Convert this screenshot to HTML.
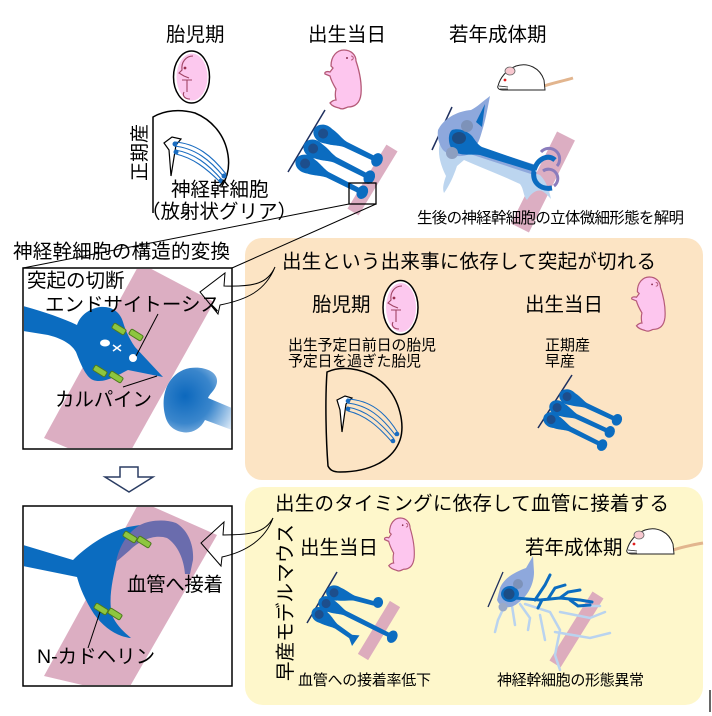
<!DOCTYPE html>
<html>
<head>
<meta charset="utf-8">
<style>
html,body{margin:0;padding:0;background:#fff;}
svg{display:block;}
</style>
</head>
<body>
<svg width="712" height="716" viewBox="0 0 712 716" xmlns="http://www.w3.org/2000/svg" font-family="'Liberation Sans','Noto Sans CJK JP',sans-serif">
<defs>
  <clipPath id="c1"><rect x="24" y="269" width="207" height="179"/></clipPath>
  <clipPath id="c2"><rect x="24" y="507" width="207" height="178"/></clipPath>
  <radialGradient id="gb" cx="185" cy="396" r="55" gradientUnits="userSpaceOnUse">
    <stop offset="0" stop-color="#0c68bd"/>
    <stop offset="0.5" stop-color="#3a86cc"/>
    <stop offset="1" stop-color="#d6e6f6"/>
  </radialGradient>
</defs>

<!-- panels -->
<rect x="245" y="238" width="458" height="242" rx="17" fill="#fce4c4"/>
<rect x="245" y="487" width="458" height="218" rx="18" fill="#fef7cb"/>

<!-- ============ TOP ROW ============ -->
<text x="166" y="41" font-size="19.5">胎児期</text>
<text x="308" y="41" font-size="19.5">出生当日</text>
<text x="449" y="41" font-size="19.5">若年成体期</text>

<!-- embryo egg top -->
<ellipse cx="191.5" cy="77" rx="18" ry="26" fill="#fff" stroke="#000" stroke-width="1.5"/>
<ellipse cx="192" cy="77" rx="15.5" ry="23.5" fill="#fcc8ee"/>
<path d="M193,56 C186,56 181,62 182,70 L179,73 L184,76 L189,78 M182,80 L192,80 M187,80 L187,92 M184,92 C182,96 185,99 190,99" fill="none" stroke="#a04464" stroke-width="1.1"/>
<circle cx="185" cy="68" r="1.4" fill="#9a3050"/>

<!-- brain section top -->
<path d="M153,213 L153,117 C165,110 180,109 195,113 C212,120 225,135 228,155 C230,168 227,178 222,186" fill="none" stroke="#000" stroke-width="1.5"/>
<path d="M164,143 L172,137 L181,139 L176,145 L171,176 L169,150 Z" fill="#fff" stroke="#000" stroke-width="1.2"/>
<g fill="none" stroke="#1a6cc0" stroke-width="1.1">
  <path d="M174,142 C196,143 212,156 226,174"/>
  <path d="M174,146 C195,148 210,160 224,177"/>
  <path d="M175,150 C194,153 208,164 222,180"/>
  <path d="M176,154 C193,158 206,168 220,182"/>
</g>
<g fill="#1a6cc0"><circle cx="175" cy="144" r="2.5"/><circle cx="176" cy="152" r="2.5"/><circle cx="224" cy="176" r="2.5"/><circle cx="221" cy="181" r="2.5"/></g>

<text transform="translate(146,181) rotate(-90)" font-size="19">正期産</text>
<text x="171" y="196" font-size="19.5">神経幹細胞</text>
<text x="141" y="218" font-size="19.5" textLength="156">（放射状グリア）</text>

<!-- pup top -->
<g transform="translate(323,50)">
  <path d="M8,16 C8,6 14,0 21,0 C28,0 33,5 33,11 C36,20 39,32 38,44 C37,53 32,57 25,57 C22,58 20,60 16,58 C12,57 9,56 7,53 C9,51 11,50 13,50 C12,46 12,43 13,39 C10,34 8,30 7,26 L2,24 C1,22 4,21 7,22 L10,18 Z" fill="#fdc6ee" stroke="#b55a78" stroke-width="1.3"/>
  <circle cx="24" cy="8" r="1" fill="#8a3050"/>
  <path d="M28,6 C31,6 31,10 28,10" fill="none" stroke="#b55a78" stroke-width="1"/>
</g>

<!-- top-middle cells -->
<line x1="392" y1="148" x2="353" y2="212" stroke="#dcaec2" stroke-width="13"/>
<line x1="325" y1="110" x2="288" y2="172" stroke="#1e2f5e" stroke-width="1.5"/>
<g fill="#0b6cc0">
  <g transform="translate(324,134) rotate(26)">
    <path d="M0,-8.5 C12,-8 16,-4 24,-3 L59,-2.5 L59,2.5 L24,3 C16,4 12,8 0,8.5 Z"/>
    <ellipse cx="0" cy="0" rx="11" ry="9"/><ellipse cx="59" cy="0" rx="5.5" ry="7"/>
    <circle cx="-1" cy="0" r="5" fill="#1d4e8c"/>
  </g>
  <g transform="translate(314,149) rotate(27)">
    <path d="M0,-8.5 C12,-8 16,-4 24,-3 L62,-2.5 L62,2.5 L24,3 C16,4 12,8 0,8.5 Z"/>
    <ellipse cx="0" cy="0" rx="11" ry="9"/><ellipse cx="62" cy="0" rx="5.5" ry="7"/>
    <circle cx="-1" cy="0" r="5" fill="#1d4e8c"/>
  </g>
  <g transform="translate(306,164) rotate(26.6)">
    <path d="M0,-8.5 C12,-8 16,-4 24,-3 L63,-2.5 L63,2.5 L24,3 C16,4 12,8 0,8.5 Z"/>
    <ellipse cx="0" cy="0" rx="11" ry="9"/><ellipse cx="63" cy="0" rx="5.5" ry="7"/>
    <circle cx="-1" cy="0" r="5" fill="#1d4e8c"/>
  </g>
</g>
<rect x="349" y="183" width="27" height="21" fill="none" stroke="#000" stroke-width="1.3"/>

<!-- adult mouse top -->
<g transform="translate(498,86)">
  <path d="M46,0 C55,-3 65,-5 75,-8" fill="none" stroke="#e2b58e" stroke-width="3"/>
  <path d="M0,0 C2,-8 8,-16 18,-20 C30,-24 42,-18 46,-6 L47,4 L5,4 C1,4 -1,2 0,0 Z" fill="#fff" stroke="#222" stroke-width="1"/>
  <ellipse cx="12" cy="-15" rx="5" ry="4" fill="#f8c8d0" stroke="#666" stroke-width="0.8"/>
  <circle cx="7" cy="-6" r="1.4" fill="#e02020"/>
  <path d="M1,0 L10,1 M2,3 L10,3" stroke="#222" stroke-width="0.8"/>
</g>

<!-- top-right complex cell -->
<line x1="566" y1="136" x2="520" y2="228" stroke="#dcaec2" stroke-width="20"/>
<line x1="452" y1="107" x2="432" y2="150" stroke="#1e2f5e" stroke-width="1.5"/>
<path d="M441,140 C436,152 441,166 446,176 C444,182 442,188 444,193 C449,186 453,178 457,166 L464,160 C482,168 503,176 520,184 C524,189 523,196 527,200 C531,193 537,189 542,191 C546,193 549,197 551,199 C549,189 546,181 540,175 L470,150 Z" fill="#bcd5ef"/>
<path d="M438,130 C444,118 458,111 471,110 C477,107 482,102 490,96 C488,106 486,118 483,128 C481,134 480,140 476,146 L536,165 L534,175 L470,154 C460,158 449,156 443,150 C439,145 437,137 438,130 Z" fill="#8ea8dc"/>
<path d="M452,130 C458,128 466,130 472,136 C475,140 478,145 482,147 L537,166 L535,172 L480,155 C470,154 462,156 455,152 C448,148 447,134 452,130 Z" fill="#0b6cc0"/>
<path d="M476,122 L485,104 L482,127 Z" fill="#0b6cc0"/>
<path d="M534,170 C538,158 548,154 555,160" stroke="#0b6cc0" stroke-width="5" fill="none"/>
<path d="M534,171 C532,182 540,190 552,188" stroke="#0b6cc0" stroke-width="5" fill="none"/>
<path d="M541,152 A10,10 0 0 1 557,166" stroke="#8a7cbc" stroke-width="3" fill="none"/>
<path d="M543,171 A9,9 0 0 1 554,186" stroke="#8a7cbc" stroke-width="3" fill="none"/>
<ellipse cx="459" cy="138" rx="7" ry="6" fill="#1c4d85"/>
<circle cx="467" cy="126" r="6" fill="#7d92b9"/>
<circle cx="452" cy="153" r="6" fill="#8d9fc0"/>

<text x="417" y="223" font-size="15.5" textLength="267">生後の神経幹細胞の立体微細形態を解明</text>

<!-- connector lines -->
<line x1="349" y1="204" x2="23" y2="268" stroke="#000" stroke-width="1"/>
<line x1="376" y1="204" x2="232" y2="268" stroke="#000" stroke-width="1"/>

<text x="13" y="258" font-size="19.5" textLength="217">神経幹細胞の構造的変換</text>

<!-- ============ LEFT BOX 1 ============ -->
<rect x="23" y="268" width="209" height="181" fill="#fff"/>
<g clip-path="url(#c1)">
  <polygon points="140,263 214,302 120,470 44,438" fill="#dcaec2"/>
  <path d="M165,415 C160,395 168,372 190,368 C205,366 218,372 217,382 C216,390 210,393 208,398 L232,408 L232,430 L205,420 C200,430 190,434 182,432 C172,430 167,424 165,415 Z" fill="url(#gb)"/>
  <path d="M23,306 C45,312 62,318 77,325 C80,316 88,309 100,307 C112,306 120,312 123,322 C126,332 130,340 135,347 L163,377 L128,370 C118,375 104,384 93,380 C86,377 81,365 76,352 C71,343 60,338 48,335 L23,331 Z" fill="#0b6cc0"/>
  <ellipse cx="105" cy="343" rx="5" ry="3.5" fill="#fff"/>
  <path d="M113,345 L121,351 M113,351 L121,345" stroke="#fff" stroke-width="1.5"/>
  <circle cx="133" cy="358" r="4" fill="#fff"/>
  <g fill="#8dc63f" stroke="#4d7a1e" stroke-width="1">
    <rect x="-7" y="-3" width="14" height="6" rx="1.5" transform="translate(119,329) rotate(32)"/>
    <rect x="-7" y="-3" width="14" height="6" rx="1.5" transform="translate(136,335) rotate(32)"/>
    <rect x="-7" y="-3" width="14" height="6" rx="1.5" transform="translate(100,371) rotate(32)"/>
    <rect x="-7" y="-3" width="14" height="6" rx="1.5" transform="translate(116,377) rotate(32)"/>
  </g>
  <line x1="158" y1="314" x2="136" y2="356" stroke="#000" stroke-width="1"/>
  <line x1="123" y1="387" x2="157" y2="376" stroke="#000" stroke-width="1"/>
</g>
<rect x="23" y="268" width="209" height="181" fill="none" stroke="#000" stroke-width="1.5"/>
<text x="27" y="287" font-size="19.5">突起の切断</text>
<text x="45" y="311" font-size="19.5" textLength="175">エンドサイトーシス</text>
<text x="55" y="406" font-size="19.5" textLength="97">カルパイン</text>

<!-- down arrow -->
<polygon points="120,467 138,467 138,477 153,477 129,492 105,477 120,477" fill="#fff" stroke="#2b3d63" stroke-width="1.5"/>

<!-- ============ LEFT BOX 2 ============ -->
<rect x="23" y="506" width="209" height="180" fill="#fff"/>
<g clip-path="url(#c2)">
  <polygon points="140,501 217,535 125,695 44,676" fill="#dcaec2"/>
  <path d="M23,545 L73,560 C85,548 105,533 128,527 L140,525 C128,535 120,545 117,560 C113,578 108,598 112,615 C116,625 124,632 131,638 C118,637 104,628 94,614 C85,600 80,588 77,577 L23,566 Z" fill="#0b6cc0"/>
  <path d="M116,562 C119,546 128,532 140,525 C150,520 165,519 176,523 C188,530 194,545 193,560 L190,574 L185,574 C184,560 178,545 167,538 C155,534 140,540 130,550 Z" fill="#6a6cad"/>
  <g fill="#8dc63f" stroke="#4d7a1e" stroke-width="1">
    <rect x="-7" y="-3" width="14" height="6" rx="1.5" transform="translate(130,537) rotate(32)"/>
    <rect x="-7" y="-3" width="14" height="6" rx="1.5" transform="translate(144,542) rotate(32)"/>
    <rect x="-7" y="-3" width="14" height="6" rx="1.5" transform="translate(101,609) rotate(32)"/>
    <rect x="-7" y="-3" width="14" height="6" rx="1.5" transform="translate(115,614) rotate(32)"/>
  </g>
  <line x1="100" y1="612" x2="88" y2="648" stroke="#000" stroke-width="1"/>
</g>
<rect x="23" y="506" width="209" height="180" fill="none" stroke="#000" stroke-width="1.5"/>
<text x="127" y="591" font-size="19.5" textLength="96">血管へ接着</text>
<text x="37" y="663" font-size="19.5">N-カドヘリン</text>

<!-- ============ ORANGE PANEL ============ -->
<text x="282" y="268" font-size="19.5" textLength="374">出生という出来事に依存して突起が切れる</text>
<text x="312" y="311" font-size="19.5">胎児期</text>
<text x="525" y="311" font-size="19.5">出生当日</text>

<ellipse cx="400.5" cy="307.5" rx="17.5" ry="27" fill="#fff" stroke="#000" stroke-width="1.5"/>
<ellipse cx="401" cy="307.5" rx="15" ry="24.5" fill="#fcc8ee"/>
<path d="M402,286 C394,286 390,293 391,300 L388,303 L393,306 L398,308 M391,310 L401,310 M396,310 L396,322 M393,322 C391,326 394,329 399,329" fill="none" stroke="#a04464" stroke-width="1.1"/>
<circle cx="394" cy="298" r="1.4" fill="#9a3050"/>

<g transform="translate(630,277) scale(0.92)">
  <path d="M8,16 C8,6 14,0 21,0 C28,0 33,5 33,11 C36,20 39,32 38,44 C37,53 32,57 25,57 C22,58 20,60 16,58 C12,57 9,56 7,53 C9,51 11,50 13,50 C12,46 12,43 13,39 C10,34 8,30 7,26 L2,24 C1,22 4,21 7,22 L10,18 Z" fill="#fdc6ee" stroke="#b55a78" stroke-width="1.3"/>
  <circle cx="24" cy="8" r="1" fill="#8a3050"/>
  <path d="M28,6 C31,6 31,10 28,10" fill="none" stroke="#b55a78" stroke-width="1"/>
</g>

<text x="288" y="350" font-size="15" textLength="148">出生予定日前日の胎児</text>
<text x="288" y="366" font-size="15" textLength="133">予定日を過ぎた胎児</text>
<text x="545" y="350" font-size="15">正期産</text>
<text x="545" y="366" font-size="15">早産</text>

<path d="M327,372 C345,364 370,370 385,385 C400,400 405,425 400,440 C393,460 370,472 340,472 C333,472 330,470 328,466 C326,440 325,400 327,372 Z" fill="none" stroke="#000" stroke-width="1.5"/>
<path d="M337,400 L345,396 L352,398 L346,404 L342,432 L340,410 Z" fill="#fff" stroke="#000" stroke-width="1.2"/>
<g fill="none" stroke="#1a6cc0" stroke-width="1">
  <path d="M347,399 C370,400 385,412 398,433"/>
  <path d="M347,403 C368,405 382,417 396,436"/>
  <path d="M347,407 C366,410 380,422 394,439"/>
  <path d="M348,411 C365,415 378,426 392,442"/>
</g>
<g fill="#1a6cc0"><circle cx="348" cy="401" r="2.3"/><circle cx="348" cy="409" r="2.3"/><circle cx="397" cy="434" r="2.3"/><circle cx="393" cy="441" r="2.3"/></g>

<line x1="572" y1="375" x2="538" y2="428" stroke="#1e2f5e" stroke-width="1.5"/>
<g fill="#0b6cc0">
  <g transform="translate(568,397) rotate(25)">
    <path d="M0,-7 C10,-6.5 14,-3.5 20,-2.5 L54,-2.2 L54,2.2 L20,2.5 C14,3.5 10,6.5 0,7 Z"/>
    <ellipse cx="0" cy="0" rx="9" ry="7.5"/><ellipse cx="54" cy="0" rx="5" ry="6"/>
    <circle cx="-1" cy="0" r="4.5" fill="#1d4e8c"/>
  </g>
  <g transform="translate(558,408) rotate(24.8)">
    <path d="M0,-7 C10,-6.5 14,-3.5 20,-2.5 L57,-2.2 L57,2.2 L20,2.5 C14,3.5 10,6.5 0,7 Z"/>
    <ellipse cx="0" cy="0" rx="9" ry="7.5"/><ellipse cx="57" cy="0" rx="5" ry="6"/>
    <circle cx="-1" cy="0" r="4.5" fill="#1d4e8c"/>
  </g>
  <g transform="translate(552,420) rotate(26.6)">
    <path d="M0,-7 C10,-6.5 14,-3.5 20,-2.5 L56,-2.2 L56,2.2 L20,2.5 C14,3.5 10,6.5 0,7 Z"/>
    <ellipse cx="0" cy="0" rx="9" ry="7.5"/><ellipse cx="56" cy="0" rx="5" ry="6"/>
    <circle cx="-1" cy="0" r="4.5" fill="#1d4e8c"/>
  </g>
</g>

<!-- ============ YELLOW PANEL ============ -->
<text x="275" y="510" font-size="19.5" textLength="394">出生のタイミングに依存して血管に接着する</text>
<text transform="translate(292,681) rotate(-90)" font-size="19.5" textLength="157">早産モデルマウス</text>
<text x="300" y="554" font-size="19.5">出生当日</text>
<text x="525" y="554" font-size="19.5">若年成体期</text>

<g transform="translate(383,518) scale(0.82,0.9)">
  <path d="M8,16 C8,6 14,0 21,0 C28,0 33,5 33,11 C36,20 39,32 38,44 C37,53 32,57 25,57 C22,58 20,60 16,58 C12,57 9,56 7,53 C9,51 11,50 13,50 C12,46 12,43 13,39 C10,34 8,30 7,26 L2,24 C1,22 4,21 7,22 L10,18 Z" fill="#fdc6ee" stroke="#b55a78" stroke-width="1.4"/>
  <circle cx="24" cy="8" r="1" fill="#8a3050"/>
  <path d="M28,6 C31,6 31,10 28,10" fill="none" stroke="#b55a78" stroke-width="1"/>
</g>

<g transform="translate(627,550)">
  <path d="M46,0 C55,-3 65,-5 76,-7" fill="none" stroke="#e2b58e" stroke-width="3"/>
  <path d="M0,0 C2,-8 8,-16 18,-20 C30,-24 42,-18 46,-6 L47,4 L5,4 C1,4 -1,2 0,0 Z" fill="#fff" stroke="#222" stroke-width="1"/>
  <ellipse cx="12" cy="-15" rx="5" ry="4" fill="#f8c8d0" stroke="#666" stroke-width="0.8"/>
  <circle cx="7" cy="-6" r="1.4" fill="#e02020"/>
  <path d="M1,0 L10,1 M2,3 L10,3" stroke="#222" stroke-width="0.8"/>
</g>

<!-- yellow left cells -->
<line x1="395" y1="604" x2="363" y2="657" stroke="#ddacbd" stroke-width="12"/>
<line x1="337" y1="572" x2="307" y2="623" stroke="#1e2f5e" stroke-width="1.5"/>
<g fill="#0b6cc0">
  <g transform="translate(335,593) rotate(15)">
    <path d="M0,-7 C10,-6.5 14,-3.5 20,-2.5 L44,-2.2 L44,2.2 L20,2.5 C14,3.5 10,6.5 0,7 Z"/>
    <ellipse cx="0" cy="0" rx="9" ry="7.5"/><ellipse cx="44" cy="-2" rx="5" ry="5.5"/>
    <circle cx="-1" cy="0" r="4.5" fill="#1d4e8c"/>
  </g>
  <g transform="translate(327,604) rotate(26.6)">
    <path d="M0,-7 C10,-6.5 14,-3.5 20,-2.5 L73,-2.2 L73,2.2 L20,2.5 C14,3.5 10,6.5 0,7 Z"/>
    <ellipse cx="0" cy="0" rx="9" ry="7.5"/><ellipse cx="73" cy="0" rx="5" ry="6.5"/>
    <circle cx="-1" cy="0" r="4.5" fill="#1d4e8c"/>
  </g>
  <g transform="translate(320,615) rotate(35)">
    <path d="M0,-7 C10,-6.5 14,-3.5 20,-2.5 L40,-2.2 L40,2.2 L20,2.5 C14,3.5 10,6.5 0,7 Z"/>
    <ellipse cx="0" cy="0" rx="9" ry="7.5"/><path d="M34,0 L44,-6 L44,7 Z"/>
    <circle cx="-1" cy="0" r="4.5" fill="#1d4e8c"/>
  </g>
</g>

<!-- yellow right cell -->
<line x1="598" y1="595" x2="555" y2="664" stroke="#ddacbd" stroke-width="13"/>
<g fill="none" stroke="#b9d3ef" stroke-width="2.5" stroke-linecap="round">
  <path d="M505,605 L498,620 L495,632"/>
  <path d="M512,606 L515,625"/>
  <path d="M520,604 L530,618 L528,630"/>
  <path d="M525,604 L550,612 L560,630 L555,655 L560,670"/>
  <path d="M560,612 L590,618 L605,612"/>
  <path d="M555,632 L590,638 L610,633"/>
  <path d="M580,606 L600,606"/>
  <path d="M540,615 L545,640"/>
</g>
<line x1="503" y1="572" x2="488" y2="607" stroke="#1e2f5e" stroke-width="1.3"/>
<path d="M500,588 C504,578 515,572 526,568 L533,556 L534,572 C534,584 528,596 518,603 C510,610 500,608 497,600 Z" fill="#8ea8dc"/>
<g fill="none" stroke="#0b6cc0" stroke-width="3" stroke-linecap="round">
  <path d="M515,598 L540,600 L560,598 L580,600 L592,602"/>
  <path d="M535,600 L545,585 L550,575"/>
  <path d="M548,599 L555,588 L565,585"/>
  <path d="M560,598 L568,592 L580,590"/>
  <path d="M570,600 L578,606 L590,605"/>
  <path d="M542,600 L538,608"/>
</g>
<ellipse cx="510" cy="594" rx="9" ry="8" fill="#0b6cc0"/>
<circle cx="509" cy="594" r="5.5" fill="#1c4d85"/>
<circle cx="518" cy="584" r="5" fill="#7d92b9"/>
<circle cx="503" cy="607" r="4.5" fill="#9aaac8"/>

<text x="298" y="685" font-size="15" textLength="133">血管への接着率低下</text>
<text x="497" y="685" font-size="15" textLength="147">神経幹細胞の形態異常</text>

<!-- callout arrows (outline only) -->
<path d="M275,267 C268,283 255,287 224,286 L225,273 L200,292 L218,314 L220,305 C245,300 265,292 275,267" fill="none" stroke="#000" stroke-width="1"/>
<path d="M273,518 C265,533 250,535 223,535 L224,522 L201,543 L221,566 L222,557 C245,552 265,540 273,518" fill="none" stroke="#000" stroke-width="1"/>

<!-- small mark bottom right -->
<line x1="710" y1="690" x2="710" y2="712" stroke="#000" stroke-width="1.2"/>
</svg>
</body>
</html>
